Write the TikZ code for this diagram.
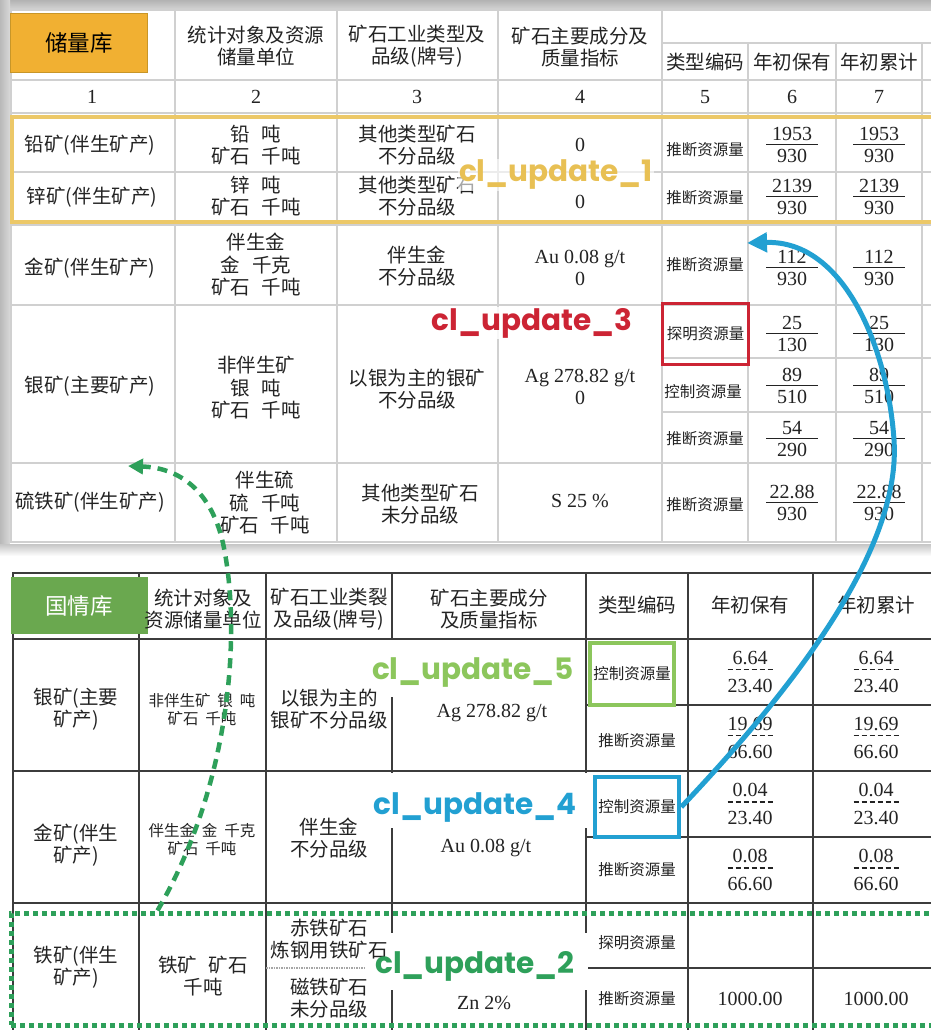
\documentclass[tikz,border=0pt]{standalone}
\usepackage{fontspec}
\setmainfont{Liberation Serif}
\newfontfamily\cjk{Noto Sans CJK SC}
\newfontfamily\updf{Poppins}
\usetikzlibrary{arrows.meta}
\definecolor{tgrid}{RGB}{208,208,208}
\definecolor{lgrid}{RGB}{60,60,60}
\definecolor{orng}{RGB}{236,200,104}
\definecolor{orfill}{RGB}{241,176,50}
\definecolor{orline}{RGB}{200,150,40}
\definecolor{gqfill}{RGB}{106,168,79}
\definecolor{upgold}{RGB}{232,192,84}
\definecolor{upred}{RGB}{204,36,52}
\definecolor{uplg}{RGB}{140,198,92}
\definecolor{upblue}{RGB}{34,160,210}
\definecolor{updg}{RGB}{46,160,90}
\definecolor{txt}{RGB}{35,35,35}
\newcommand\gp{\hspace{0.6em}}
\newcommand\sgp{\hspace{0.45em}}
\newcommand\fr[2]{\makebox[52pt]{#1}\llap{\rule[-4.6pt]{52pt}{1.3pt}}\\#2}
\newcommand\dashrl{\makebox[48pt][l]{\xleaders\hbox to 8pt{\hss\rule[-6pt]{5pt}{1.6pt}\hss}\hskip48pt}}
\newcommand\dfr[2]{\makebox[48pt]{#1}\llap{\dashrl}\\#2}
\begin{document}
\begin{tikzpicture}[x=1pt,y=-1pt,
  cell/.style={inner sep=0pt,align=center,text=txt},
  zh/.style={cell,font=\cjk\fontsize{19.5}{22.5}\selectfont},
  zs/.style={cell,font=\cjk\fontsize{15.5}{18}\selectfont},
  nm/.style={cell,font=\fontsize{20}{22}\selectfont},
  dn/.style={cell,font=\fontsize{20}{28}\selectfont},
  upd/.style={font=\updf\bfseries\fontsize{29.5}{31}\selectfont,inner sep=1pt},
  tg/.style={draw=tgrid,line width=1.5pt},
  lg/.style={draw=lgrid,line width=1.8pt},
  tag/.style={font=\cjk\fontsize{22.5}{24}\selectfont,inner sep=0pt,minimum width=137pt,minimum height=59pt}
]
\useasboundingbox (0,0) rectangle (931,1030);
\fill[white] (0,0) rectangle (931,1030);
% ---------- top panel (screenshot) ----------
\shade[top color=gray!60,bottom color=gray!35] (0,0) rectangle (931,9);
\shade[left color=gray!55,right color=gray!30] (0,0) rectangle (10,545);
\shade[top color=gray!45,bottom color=white] (0,544) rectangle (931,556);
\fill[white] (10,9) rectangle (931,544);
% grid
\foreach \x in {11,175,337,498,662} \draw[tg] (\x,10) -- (\x,543);
\foreach \x in {748,836,922} \draw[tg] (\x,43) -- (\x,543);
\foreach \y in {10,80,113,172,225,305,463,542} \draw[tg] (10,\y) -- (931,\y);
\foreach \y in {43,358,412} \draw[tg] (662,\y) -- (931,\y);
% header
\node[tag,draw=orline,fill=orfill,line width=0.8pt] (cl) at (79,43) {储量库};
\node[zh] (h2) at (256,46) {统计对象及资源\\储量单位};
\node[zh] (h3) at (417,46) {矿石工业类型及\\品级(牌号)};
\node[zh] (h4) at (580,47) {矿石主要成分及\\质量指标};
\node[zh] (h5) at (705,62) {类型编码};
\node[zh] (h6) at (792,62) {年初保有};
\node[zh] (h7) at (879,62) {年初累计};
\foreach \i/\x in {1/92,2/256,3/417,4/580,5/705,6/792,7/879}
  \node[nm] (n\i) at (\x,97) {\i};
% lead
\node[zh] (a1) at (90,145) {铅矿(伴生矿产)};
\node[zh] (a2) at (256,145) {铅\gp 吨\\矿石\gp 千吨};
\node[zh] (a3) at (417,145) {其他类型矿石\\不分品级};
\node[nm] (a4) at (580,145) {0};
\node[zs] (a5) at (705,150) {推断资源量};
\node[nm] (a6) at (792,145) {\fr{1953}{930}};
\node[nm] (a7) at (879,145) {\fr{1953}{930}};
% zinc
\node[zh] (b1) at (92,197) {锌矿(伴生矿产)};
\node[zh] (b2) at (256,196) {锌\gp 吨\\矿石\gp 千吨};
\node[zh] (b3) at (417,196) {其他类型矿石\\不分品级};
\node[nm] (b4) at (580,202) {0};
\node[zs] (b5) at (705,198) {推断资源量};
\node[nm] (b6) at (792,197) {\fr{2139}{930}};
\node[nm] (b7) at (879,197) {\fr{2139}{930}};
% gold
\node[zh] (c1) at (90,268) {金矿(伴生矿产)};
\node[zh] (c2) at (256,265) {伴生金\\金\gp 千克\\矿石\gp 千吨};
\node[zh] (c3) at (417,266) {伴生金\\不分品级};
\node[nm] (c4) at (580,268) {Au 0.08 g/t\\0};
\node[zs] (c5) at (705,265) {推断资源量};
\node[nm] (c6) at (792,268) {\fr{112}{930}};
\node[nm] (c7) at (879,268) {\fr{112}{930}};
% silver
\node[zh] (d1) at (90,386) {银矿(主要矿产)};
\node[zh] (d2) at (256,388) {非伴生矿\\银\gp 吨\\矿石\gp 千吨};
\node[zh] (d3) at (417,389) {以银为主的银矿\\不分品级};
\node[nm] (d4) at (580,387) {Ag 278.82 g/t\\0};
\node[zs,draw=upred,line width=3pt,minimum width=86pt,minimum height=61pt] (redbox) at (705.5,334) {探明资源量};
\node[zs] (d5b) at (703,392) {控制资源量};
\node[zs] (d5c) at (705,439) {推断资源量};
\node[nm] (d6a) at (792,334) {\fr{25}{130}};
\node[nm] (d7a) at (879,334) {\fr{25}{130}};
\node[nm] (d6b) at (792,386) {\fr{89}{510}};
\node[nm] (d7b) at (879,386) {\fr{89}{510}};
\node[nm] (d6c) at (792,439) {\fr{54}{290}};
\node[nm] (d7c) at (879,439) {\fr{54}{290}};
% pyrite
\node[zh] (e1) at (90,502) {硫铁矿(伴生矿产)};
\node[zh] (e2) at (265,503) {伴生硫\\硫\gp 千吨\\矿石\gp 千吨};
\node[zh] (e3) at (420,504) {其他类型矿石\\未分品级};
\node[nm] (e4) at (580,501) {S 25 \%};
\node[zs] (e5) at (705,505) {推断资源量};
\node[nm] (e6) at (792,503) {\fr{22.88}{930}};
\node[nm] (e7) at (879,503) {\fr{22.88}{930}};
% highlight 1
\node[draw=orng,line width=4.5pt,minimum width=928pt,minimum height=105pt,inner sep=0pt] (box1) at (476,169.5) {};
\node[upd,text=upgold,fill=white,fill opacity=0.6,text opacity=1] (u1) at (556,175) {cl\_update\_1};
\node[upd,text=upred,fill=white,fill opacity=0.85,text opacity=1] (u3) at (532,323) {cl\_update\_3};
% ---------- lower table ----------
\foreach \x in {13,139,266,688,813} \draw[lg] (\x,573) -- (\x,1032);
\draw[lg] (392,573) -- (392,640) (392,697) -- (392,773) (392,828) -- (392,933) (392,990) -- (392,1032);
\draw[lg] (586,573) -- (586,773) (586,828) -- (586,933) (586,990) -- (586,1032);
\foreach \y in {573,639,771,903} \draw[lg] (12,\y) -- (931,\y);
\foreach \y in {705,837} \draw[lg] (586,\y) -- (931,\y);
\draw[lg] (588,968) -- (931,968);
\draw[draw=gray!70,line width=1.2pt,dash pattern=on 1.5pt off 1pt] (266,968) -- (366,968);
\node[tag,fill=gqfill,text=white,minimum height=57pt] (gq) at (79,605.5) {国情库};
\node[zh] (g2) at (203,609) {统计对象及\\资源储量单位};
\node[zh] (g3) at (329,609) {矿石工业类裂\\及品级(牌号)};
\node[zh] (g4) at (489,609) {矿石主要成分\\及质量指标};
\node[zh] (g5) at (637,605) {类型编码};
\node[zh] (g6) at (750,605) {年初保有};
\node[zh] (g7) at (876,605) {年初累计};
% silver
\node[zh] (p1) at (76,709) {银矿(主要\\矿产)};
\node[zs] (p2) at (202,710) {非伴生矿\sgp 银\sgp 吨\\矿石\sgp 千吨};
\node[zh] (p3) at (329,709) {以银为主的\\银矿不分品级};
\node[nm] (p4) at (492,713) {Ag 278.82 g/t};
\node[zs,draw=uplg,line width=4pt,minimum width=84pt,minimum height=62pt] (greenbox) at (632,674) {控制资源量};
\node[zs] (p5b) at (637,741) {推断资源量};
\node[dn] (p6a) at (750,672) {\dfr{6.64}{23.40}};
\node[dn] (p7a) at (876,672) {\dfr{6.64}{23.40}};
\node[dn] (p6b) at (750,738) {\dfr{19.69}{66.60}};
\node[dn] (p7b) at (876,738) {\dfr{19.69}{66.60}};
% gold
\node[zh] (q1) at (76,845) {金矿(伴生\\矿产)};
\node[zs] (q2) at (202,840) {伴生金\sgp 金\sgp 千克\\矿石\sgp 千吨};
\node[zh] (q3) at (329,838) {伴生金\\不分品级};
\node[nm] (q4) at (486,848) {Au 0.08 g/t};
\node[zs,draw=upblue,line width=4.5pt,minimum width=84pt,minimum height=60pt] (bluebox) at (637,807) {控制资源量};
\node[zs] (q5b) at (637,870) {推断资源量};
\node[dn] (q6a) at (750,804) {\dfr{0.04}{23.40}};
\node[dn] (q7a) at (876,804) {\dfr{0.04}{23.40}};
\node[dn] (q6b) at (750,870) {\dfr{0.08}{66.60}};
\node[dn] (q7b) at (876,870) {\dfr{0.08}{66.60}};
% iron
\node[zh] (r1) at (76,967) {铁矿(伴生\\矿产)};
\node[zh] (r2) at (203,976) {铁矿\gp 矿石\\千吨};
\node[zh] (r3a) at (329,939) {赤铁矿石\\炼钢用铁矿石};
\node[zh] (r3b) at (329,998) {磁铁矿石\\未分品级};
\node[nm] (r4) at (484,1003) {Zn 2\%};
\node[zs] (r5a) at (637,943) {探明资源量};
\node[zs] (r5b) at (637,999) {推断资源量};
\node[nm] (r6) at (750,999) {1000.00};
\node[nm] (r7) at (876,999) {1000.00};
% highlight 2
\node[draw=updg,line width=5pt,dash pattern=on 5pt off 4pt,minimum width=934pt,minimum height=112pt,inner sep=0pt] (box2) at (478,969) {};
\node[upd,text=uplg] (u5) at (473,672) {cl\_update\_5};
\node[upd,text=upblue] (u4) at (475,807) {cl\_update\_4};
\node[upd,text=updg] (u2) at (475,966) {cl\_update\_2};
% ---------- connectors ----------
\coordinate (btip) at (747,243);
\coordinate (bmid) at (894,440);
\draw[upblue,line width=5pt,-{Triangle[length=20pt,width=19pt]}]
  (bluebox.east) .. controls (830,650) and (900,530) .. (bmid)
  .. controls (888,350) and (845,240) .. (btip);
\coordinate (gtip) at (128,466);
\coordinate (gmid) at (224,548);
\draw[updg,line width=4.5pt,dash pattern=on 10pt off 7pt,-{Triangle[length=15pt,width=15pt]}]
  ([xshift=149pt]box2.north west) .. controls (228,790) and (242,640) .. (gmid)
  .. controls (214,497) and (185,468) .. (gtip);
\end{tikzpicture}
\end{document}
